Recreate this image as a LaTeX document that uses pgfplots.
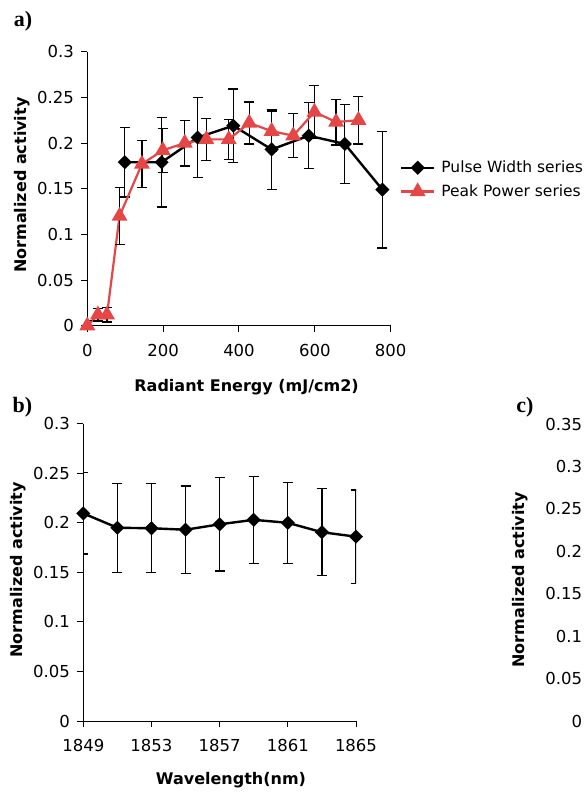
\documentclass[border=0pt]{standalone}
\usepackage{pgfplots}
\pgfplotsset{compat=1.18}
\usepackage{fontspec}
\setmainfont{DejaVu Sans}
\newfontfamily\serifbold{Liberation Serif}
\definecolor{redS}{RGB}{230,70,70}
\pgfplotsset{
  mystyle/.style={
    scale only axis,
    axis x line=bottom, axis y line=left, axis line style={-, line width=1pt},
    tick align=outside, major tick length=6pt, tick style={line width=1pt, black},
    scaled ticks=false,
    /pgf/number format/fixed,
    /pgf/number format/assume math mode=true,
    /pgf/number format/1000 sep={},
    tick label style={font=\fontsize{16.5}{18}\selectfont},
    yticklabel style={xshift=-4pt},
    xticklabel style={yshift=-9pt},
    label style={font=\fontsize{16}{18}\selectfont\bfseries},
  },
  ebar/.style={error bars/.cd, y dir=both, y explicit,
    error bar style={line width=1.3pt,black},
    error mark options={rotate=90,mark size=5pt,line width=1.3pt,black}},
}
\begin{document}
\begin{tikzpicture}
% ---------- panel a ----------
\begin{axis}[mystyle,
  at={(87.3pt,467.3pt)}, anchor=south west,
  width=303.4pt, height=274pt,
  xmin=0, xmax=800, ymin=0, ymax=0.3,
  xtick={0,200,400,600,800},
  ytick={0,0.05,0.1,0.15,0.2,0.25,0.3},
  xlabel={Radiant Energy (mJ/cm2)},
  ylabel={Normalized activity},
  xlabel style={at={(axis description cs:0.525,-0.2255)}, anchor=center},
  ylabel style={at={(axis description cs:-0.215,0.513)}, anchor=center},
  legend style={at={(rel axis cs:1.03,0.605)}, anchor=north west, draw=none, fill=none,
    font=\fontsize{15.5}{18}\selectfont, row sep=8.5pt, column sep=5pt, inner sep=0pt,
    nodes={inner sep=1pt}},
  legend cell align=left,
  legend image code/.code={\draw[mark repeat=2,mark phase=2,#1] plot coordinates {(0pt,0pt) (16.5pt,0pt) (33pt,0pt)};},
]
\addplot[black, line width=2.4pt, mark=square*, mark size=3.8pt, mark options={rotate=45, solid}, ebar]
 table[x=x,y=y,y error=e] {
x y e
99 0.179 0.038
196 0.179 0.049
291 0.206 0.044
385 0.219 0.040
486 0.193 0.044
584 0.208 0.036
679 0.199 0.043
778 0.149 0.064
};
\addlegendentry{Pulse Width series}
\addplot[redS, line width=2.2pt, mark=triangle*, mark size=7pt, mark options={solid}, ebar]
 table[x=x,y=y,y error=e] {
x y e
0 0 0.006
28 0.012 0.007
52 0.012 0.008
85 0.120 0.031
144 0.177 0.026
199 0.192 0.024
257 0.200 0.025
314 0.204 0.023
373 0.204 0.022
427 0.222 0.023
486 0.213 0.022
543 0.208 0.024
599 0.234 0.029
656 0.223 0.025
715 0.225 0.026
};
\addlegendentry{Peak Power series}
\end{axis}
% ---------- panel b ----------
\begin{axis}[mystyle,
  at={(83.3pt,72pt)}, anchor=south west,
  width=272.7pt, height=297.3pt,
  xmin=1849, xmax=1865, ymin=0, ymax=0.3,
  xtick={1849,1853,1857,1861,1865},
  ytick={0,0.05,0.1,0.15,0.2,0.25,0.3},
  xlabel={Wavelength(nm)},
  ylabel={Normalized activity},
  xlabel style={at={(axis description cs:0.5416,-0.198)}, anchor=center},
  ylabel style={at={(axis description cs:-0.2395,0.508)}, anchor=center},
]
\addplot[black, line width=2.4pt, mark=square*, mark size=3.8pt, mark options={rotate=45, solid}, ebar]
 table[x=x,y=y,y error=e] {
x y e
1849 0.2095 0.041
1851 0.195 0.045
1853 0.1945 0.045
1855 0.193 0.044
1857 0.1985 0.047
1859 0.203 0.044
1861 0.200 0.041
1863 0.1905 0.044
1865 0.186 0.047
};
\end{axis}
% ---------- panel c (only its left edge is in view) ----------
\begin{axis}[mystyle,
  at={(595.7pt,72pt)}, anchor=south west,
  width=250pt, height=297pt,
  xmin=0, xmax=1, ymin=0, ymax=0.35,
  xtick=\empty,
  ytick={0,0.05,0.1,0.15,0.2,0.25,0.3,0.35},
  ylabel={Normalized activity},
  ylabel style={at={(axis description cs:-0.3028,0.4747)}, anchor=center},
]
\end{axis}
\node[font=\serifbold\fontsize{22}{24}\selectfont\bfseries] at (23pt,772pt) {a)};
\node[font=\serifbold\fontsize{22}{24}\selectfont\bfseries] at (22.5pt,386pt) {b)};
\node[font=\serifbold\fontsize{22}{24}\selectfont\bfseries] at (525pt,385.5pt) {c)};
\pgfresetboundingbox
\useasboundingbox (0,0) rectangle (588pt,793pt);
\end{tikzpicture}
\end{document}
